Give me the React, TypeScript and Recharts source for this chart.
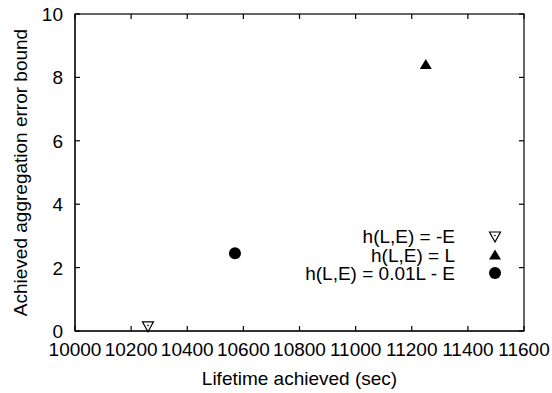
import React from 'react';
import { ScatterChart, Scatter, XAxis, YAxis } from 'recharts';

const xTicks = [10000, 10200, 10400, 10600, 10800, 11000, 11200, 11400, 11600];
const yTicks = [0, 2, 4, 6, 8, 10];
const xDomain = [10000, 11600];
const yDomain = [0, 10];

const seriesNegE = [{ x: 10260, y: 0.13 }];
const seriesL = [{ x: 11250, y: 8.42 }];
const seriesMix = [{ x: 10570, y: 2.45 }];

const seriesNames = ['h(L,E) = -E', 'h(L,E) = L', 'h(L,E) = 0.01L - E'];
const xTitle = 'Lifetime achieved (sec)';
const yTitle = 'Achieved aggregation error bound';

const FONT = '"Liberation Sans", Arial, Helvetica, sans-serif';
const FS = 19;
const TL = 5;
const W = 552;
const H = 393;
const MARGIN = { top: 14, right: 28, bottom: 32, left: 0 };
const Y_AXIS_W = 75;
const X_AXIS_H = 30;
const PLOT = {
  left: MARGIN.left + Y_AXIS_W,
  top: MARGIN.top,
  right: W - MARGIN.right,
  bottom: H - MARGIN.bottom - X_AXIS_H,
};
// linear mapping identical to the chart's axis scales, used for the frame's tick marks
const px = (v: number) => PLOT.left + ((v - xDomain[0]) / (xDomain[1] - xDomain[0])) * (PLOT.right - PLOT.left);
const py = (v: number) => PLOT.bottom - ((v - yDomain[0]) / (yDomain[1] - yDomain[0])) * (PLOT.bottom - PLOT.top);

const TriDown = ({ cx, cy }: any) => (
  <g>
    <path d={`M${cx - 5.5},${cy - 5} L${cx + 5.5},${cy - 5} L${cx},${cy + 5} Z`} fill="#fff" stroke="#000" strokeWidth={1.2} />
    <circle cx={cx} cy={cy - 1.5} r={0.8} fill="#000" />
  </g>
);
const TriUp = ({ cx, cy }: any) => (
  <path d={`M${cx - 6},${cy + 5} L${cx + 6},${cy + 5} L${cx},${cy - 5} Z`} fill="#000" />
);
const Dot = ({ cx, cy }: any) => <circle cx={cx} cy={cy} r={6} fill="#000" />;

const BottomTick = (p: any) => (
  <text x={p.x} y={p.y + 25} textAnchor="middle" fontSize={FS} fontFamily={FONT} fill="#000">
    {p.payload.value}
  </text>
);
const LeftTick = (p: any) => (
  <text x={p.x - 12} y={p.y + 7} textAnchor="end" fontSize={FS} fontFamily={FONT} fill="#000">
    {p.payload.value}
  </text>
);

const legendShapes = [
  (cx: number, cy: number) => <TriDown cx={cx} cy={cy + 1} />,
  (cx: number, cy: number) => <TriUp cx={cx} cy={cy} />,
  (cx: number, cy: number) => <Dot cx={cx} cy={cy} />,
];
const legendRowY = [236, 254.5, 273];

export default function App() {
  return (
    <div style={{ position: 'absolute', left: 0, top: 0, width: W, height: H }}>
      <ScatterChart width={W} height={H} margin={MARGIN}>
        <XAxis
          xAxisId="b"
          dataKey="x"
          type="number"
          domain={xDomain}
          ticks={xTicks}
          height={X_AXIS_H}
          tickSize={0}
          tickMargin={0}
          tickLine={false}
          stroke="#000"
          tick={BottomTick}
          interval={0}
        />
        <YAxis
          yAxisId="l"
          dataKey="y"
          type="number"
          domain={yDomain}
          ticks={yTicks}
          width={Y_AXIS_W}
          tickSize={0}
          tickMargin={0}
          tickLine={false}
          stroke="#000"
          tick={LeftTick}
          interval={0}
        />
        <Scatter name={seriesNames[0]} data={seriesNegE} xAxisId="b" yAxisId="l" shape={TriDown} isAnimationActive={false} />
        <Scatter name={seriesNames[1]} data={seriesL} xAxisId="b" yAxisId="l" shape={TriUp} isAnimationActive={false} />
        <Scatter name={seriesNames[2]} data={seriesMix} xAxisId="b" yAxisId="l" shape={Dot} isAnimationActive={false} />
      </ScatterChart>
      <svg width={W} height={H} style={{ position: 'absolute', left: 0, top: 0, pointerEvents: 'none' }}>
        <rect
          x={PLOT.left}
          y={PLOT.top}
          width={PLOT.right - PLOT.left}
          height={PLOT.bottom - PLOT.top}
          fill="none"
          stroke="#000"
          strokeWidth={1.2}
        />
        {xTicks.map((v) => (
          <g key={'x' + v}>
            <line x1={px(v)} x2={px(v)} y1={PLOT.bottom} y2={PLOT.bottom - TL} stroke="#000" strokeWidth={1.2} />
            <line x1={px(v)} x2={px(v)} y1={PLOT.top} y2={PLOT.top + TL} stroke="#000" strokeWidth={1.2} />
          </g>
        ))}
        {yTicks.map((v) => (
          <g key={'y' + v}>
            <line x1={PLOT.left} x2={PLOT.left + TL} y1={py(v)} y2={py(v)} stroke="#000" strokeWidth={1.2} />
            <line x1={PLOT.right} x2={PLOT.right - TL} y1={py(v)} y2={py(v)} stroke="#000" strokeWidth={1.2} />
          </g>
        ))}
        <text x={(PLOT.left + PLOT.right) / 2} y={385} textAnchor="middle" fontSize={FS} fontFamily={FONT} fill="#000">
          {xTitle}
        </text>
        <text
          transform={`translate(27, ${(PLOT.top + PLOT.bottom) / 2}) rotate(-90)`}
          textAnchor="middle"
          fontSize={FS}
          fontFamily={FONT}
          fill="#000"
        >
          {yTitle}
        </text>
        {seriesNames.map((n, i) => (
          <g key={n}>
            <text x={455} y={legendRowY[i] + 7} textAnchor="end" fontSize={FS} fontFamily={FONT} fill="#000">
              {n}
            </text>
            {legendShapes[i](495, legendRowY[i])}
          </g>
        ))}
      </svg>
    </div>
  );
}
